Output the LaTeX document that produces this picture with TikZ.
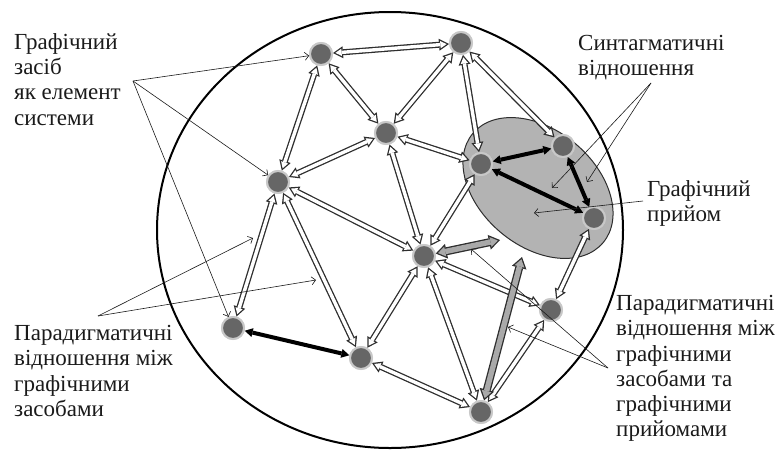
\documentclass[tikz,border=0pt]{standalone}
\usepackage{fontspec}
\setmainfont{Liberation Serif}
\usetikzlibrary{arrows.meta,shapes.geometric}
\definecolor{nodec}{HTML}{666666}
\definecolor{haloc}{HTML}{C8C8C8}
\definecolor{edgec}{HTML}{2E2E2E}
\definecolor{ellc}{HTML}{B3B3B3}
\definecolor{garrc}{HTML}{A9A9A9}
\definecolor{txtc}{HTML}{1A1A1A}
\tikzset{
  gnode/.style={circle, fill=nodec, draw=haloc, line width=2pt, minimum size=22pt, inner sep=0pt},
  dbouter/.style={line width=6pt, draw=edgec,
     {Triangle[length=10pt,width=12pt,line width=0pt]}-{Triangle[length=10pt,width=12pt,line width=0pt]}},
  dbinner/.style={line width=3.4pt, draw=white, shorten <=2.5pt, shorten >=2.5pt,
     {Triangle[length=6.2pt,width=7.4pt,line width=0pt]}-{Triangle[length=6.2pt,width=7.4pt,line width=0pt]}},
  grouter/.style={line width=8pt, draw=edgec,
     {Triangle[length=11pt,width=15pt,line width=0pt]}-{Triangle[length=11pt,width=15pt,line width=0pt]}},
  grinner/.style={line width=5.4pt, draw=garrc, shorten <=2.3pt, shorten >=2.3pt,
     {Triangle[length=7.4pt,width=10pt,line width=0pt]}-{Triangle[length=7.4pt,width=10pt,line width=0pt]}},
  blkarr/.style={line width=4pt, draw=black,
     {Triangle[length=8pt,width=9pt,line width=0pt]}-{Triangle[length=8pt,width=9pt,line width=0pt]}},
  thinarr/.style={draw=txtc, line width=0.6pt, -{Straight Barb[length=4pt,width=8pt]}},
  lbl/.style={anchor=north west, align=left, inner sep=0pt, text=txtc,
     font=\fontsize{23}{25.3}\selectfont}
}
\newcommand\dblarrow[2]{%
  \draw[dbouter] (#1) -- (#2);
  \draw[dbinner] (#1) -- (#2);}
\newcommand\grarrow[2]{%
  \draw[grouter] (#1) -- (#2);
  \draw[grinner] (#1) -- (#2);}
\begin{document}
\begin{tikzpicture}[x=1pt,y=-1pt]
\useasboundingbox (0,0) rectangle (776,453);
% outer circle
\draw[line width=2pt, black] (390,230) ellipse [x radius=233pt, y radius=218pt];
% graphic device ellipse
\node[ellipse, draw=edgec, line width=1pt, fill=ellc, minimum width=170pt, minimum height=116pt,
      rotate=-40, inner sep=0pt] (P) at (538,188) {};
% nodes
\node[gnode] (A) at (321,54) {};
\node[gnode] (B) at (461,43) {};
\node[gnode] (C) at (386,133) {};
\node[gnode] (D) at (278,182) {};
\node[gnode] (E) at (481,164) {};
\node[gnode] (F) at (563,146) {};
\node[gnode] (G) at (594,218) {};
\node[gnode] (H) at (424,256) {};
\node[gnode] (I) at (551,310) {};
\node[gnode] (J) at (233,328) {};
\node[gnode] (K) at (361,358) {};
\node[gnode] (L) at (481,412) {};
\coordinate (pe1) at (500,240);
\coordinate (pe2) at (522,257);
% paradigmatic edges
\dblarrow{A}{B}
\dblarrow{A}{C}
\dblarrow{A}{D}
\dblarrow{B}{C}
\dblarrow{B}{E}
\dblarrow{B}{F}
\dblarrow{C}{D}
\dblarrow{C}{E}
\dblarrow{C}{H}
\dblarrow{D}{H}
\dblarrow{D}{J}
\dblarrow{D}{K}
\dblarrow{E}{H}
\dblarrow{H}{K}
\dblarrow{H}{L}
\dblarrow{H}{I}
\dblarrow{K}{L}
\dblarrow{I}{L}
\dblarrow{I}{G}
% device-technique relations
\grarrow{H}{pe1}
\grarrow{L}{pe2}
% syntagmatic relations
\draw[blkarr] (J) -- (K);
\draw[blkarr] (E) -- (F);
\draw[blkarr] (E) -- (G);
\draw[blkarr] (F) -- (G);
% redraw nodes on top
\foreach \p in {(321,54),(461,43),(386,133),(278,182),(481,164),(563,146),(594,218),(424,256),(551,310),(233,328),(361,358),(481,412)}
  \node[gnode] at \p {};
% annotation pointers
\coordinate (g1) at (133,81);
\coordinate (g2) at (98,316);
\coordinate (g2a) at (253,238);
\coordinate (g2b) at (316,280);
\coordinate (g3) at (651,83);
\coordinate (g3a) at (552,188);
\coordinate (g3b) at (587,182);
\coordinate (g4) at (643,201);
\coordinate (g4a) at (534,213);
\coordinate (g5) at (608,368);
\coordinate (g5a) at (471,249);
\coordinate (g5b) at (508,327);
\draw[thinarr] (g1) -- (A);
\draw[thinarr] (g1) -- (D);
\draw[thinarr] (g1) -- (J);
\draw[thinarr] (g2) -- (g2a);
\draw[thinarr] (g2) -- (g2b);
\draw[thinarr] (g3) -- (g3a);
\draw[thinarr] (g3) -- (g3b);
\draw[thinarr] (g4) -- (g4a);
\draw[thinarr] (g5) -- (g5a);
\draw[thinarr] (g5) -- (g5b);
% labels
\node[lbl] (t1) at (14,33) {Графічний\\засіб\\як елемент\\системи};
\node[lbl] (t2) at (578,35) {Синтагматичні\\відношення};
\node[lbl] (t3) at (647,180) {Графічний\\прийом};
\node[lbl] (t4) at (14,325) {Парадигматичні\\відношення між\\графічними\\засобами};
\node[lbl] (t5) at (616,295) {Парадигматичні\\відношення між\\графічними\\засобами та\\графічними\\прийомами};
\end{tikzpicture}
\end{document}
